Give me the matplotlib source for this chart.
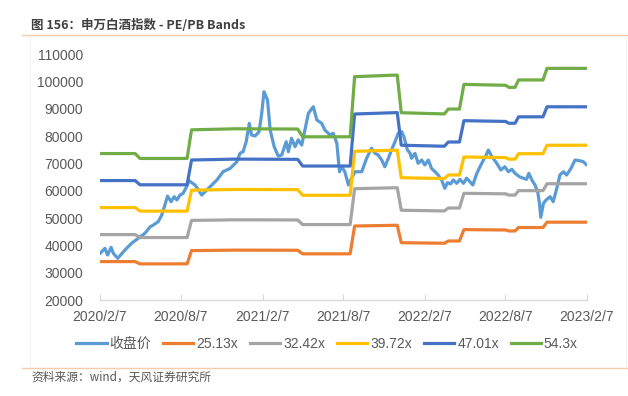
import matplotlib
matplotlib.use("Agg")
import matplotlib.pyplot as plt
import pandas as pd
from matplotlib.lines import Line2D
from matplotlib.patches import Rectangle

plt.rcParams['font.family'] = ['Liberation Sans', 'Noto Sans CJK SC', 'DejaVu Sans']

# ---- data ----
price_dates = [
    '2020-02-07', '2020-02-18', '2020-02-24', '2020-03-03', '2020-03-08', '2020-03-18',
    '2020-04-03', '2020-04-18', '2020-05-03', '2020-05-18', '2020-05-30', '2020-06-06',
    '2020-06-17', '2020-06-25', '2020-07-02', '2020-07-08', '2020-07-16', '2020-07-23',
    '2020-07-29', '2020-08-05', '2020-08-12', '2020-08-20', '2020-08-25', '2020-09-08',
    '2020-09-23', '2020-10-08', '2020-10-27', '2020-11-10', '2020-11-26', '2020-12-11',
    '2020-12-18', '2020-12-25', '2021-01-01', '2021-01-08', '2021-01-13', '2021-01-21',
    '2021-01-30', '2021-02-05', '2021-02-10', '2021-02-18', '2021-02-24', '2021-03-05',
    '2021-03-14', '2021-03-22', '2021-04-01', '2021-04-06', '2021-04-13', '2021-04-21',
    '2021-04-28', '2021-05-06', '2021-05-13', '2021-05-21', '2021-06-01', '2021-06-09',
    '2021-06-20', '2021-06-27', '2021-07-09', '2021-07-16', '2021-07-24', '2021-07-30',
    '2021-08-04', '2021-08-11', '2021-08-19', '2021-08-24', '2021-09-03', '2021-09-18',
    '2021-09-29', '2021-10-10', '2021-10-18', '2021-10-25', '2021-11-02', '2021-11-09',
    '2021-11-17', '2021-11-24', '2021-12-02', '2021-12-09', '2021-12-17', '2021-12-22',
    '2021-12-30', '2022-01-05', '2022-01-08', '2022-01-16', '2022-01-23', '2022-01-31',
    '2022-02-07', '2022-02-15', '2022-02-22', '2022-03-02', '2022-03-09', '2022-03-17',
    '2022-03-24', '2022-03-30', '2022-04-06', '2022-04-12', '2022-04-20', '2022-04-27',
    '2022-05-05', '2022-05-12', '2022-05-16', '2022-05-26', '2022-06-04', '2022-06-15',
    '2022-06-25', '2022-06-30', '2022-07-08', '2022-07-19', '2022-07-28', '2022-08-06',
    '2022-08-14', '2022-08-22', '2022-08-29', '2022-09-08', '2022-09-17', '2022-09-24',
    '2022-09-29', '2022-10-06', '2022-10-13', '2022-10-19', '2022-10-23', '2022-10-26',
    '2022-11-01', '2022-11-07', '2022-11-16', '2022-11-23', '2022-12-01', '2022-12-08',
    '2022-12-16', '2022-12-23', '2023-01-02', '2023-01-11', '2023-01-21', '2023-01-30',
    '2023-02-06',
]
price_values = [
    37000, 38900, 36450, 39270, 37080, 35250,
    38280, 40740, 42560, 44400, 46800, 47430,
    48640, 51090, 54750, 58040, 55960, 57790,
    56580, 58400, 59030, 61460, 63640, 62070,
    58400, 60860, 63900, 66930, 68170, 70580,
    73660, 74250, 77910, 84640, 80360, 80000,
    81570, 88300, 96210, 93170, 82190, 76080,
    72680, 73040, 77910, 74250, 79160, 76080,
    78610, 76700, 82190, 88300, 90740, 85850,
    84640, 82190, 80360, 80980, 77330, 66930,
    68760, 66930, 62070, 63900, 66930, 66930,
    71850, 75500, 73660, 73040, 71210, 68760,
    71850, 74870, 77910, 80980, 81570, 79740,
    74870, 73660, 71850, 73660, 70000, 71210,
    69390, 71210, 68170, 66930, 65710, 63900,
    60860, 62930, 62450, 63900, 62690, 64150,
    62690, 64520, 63900, 62070, 66330, 69990,
    73040, 74870, 72440, 69990, 67560, 68760,
    66930, 67810, 66330, 65100, 64520, 64150,
    66330, 63900, 62070, 59620, 55370, 50240,
    55370, 56580, 57790, 55960, 60860, 65710,
    66930, 65710, 68170, 71210, 70970, 70580,
    69390,
]

# earnings per share behind the PE bands (band = multiple x EPS)
eps_dates = [
    '2020-02-07', '2020-04-26', '2020-05-07', '2020-08-21', '2020-08-31', '2020-12-10',
    '2021-04-27', '2021-05-08', '2021-08-23', '2021-09-02', '2021-12-07', '2021-12-16',
    '2022-03-23', '2022-04-01', '2022-04-26', '2022-05-06', '2022-08-08', '2022-08-15',
    '2022-08-29', '2022-09-06', '2022-10-31', '2022-11-09', '2023-02-07',
]
eps_values = [
    1355, 1355, 1322, 1322, 1515, 1522,
    1520, 1468, 1468, 1873, 1884, 1630,
    1622, 1655, 1655, 1821, 1815, 1801,
    1801, 1851, 1851, 1929, 1929,
]
band_multiples = [25.13, 32.42, 39.72, 47.01, 54.3]
band_labels = ['25.13x', '32.42x', '39.72x', '47.01x', '54.3x']
price_label = '收盘价'

tick_dates = ['2020-02-07', '2020-08-07', '2021-02-07', '2021-08-07',
              '2022-02-07', '2022-08-07', '2023-02-07']
tick_labels = ['2020/2/7', '2020/8/7', '2021/2/7', '2021/8/7',
               '2022/2/7', '2022/8/7', '2023/2/7']
y_ticks = [20000, 30000, 40000, 50000, 60000, 70000, 80000, 90000, 100000, 110000]

title = '图 156：申万白酒指数 - PE/PB Bands'
source = '资料来源：wind，天风证券研究所'

# ---- style ----
price_color = '#5B9BD5'
band_colors = ['#ED7D31', '#A5A5A5', '#FFC000', '#4472C4', '#70AD47']
text_gray = '#595959'
lw = 2.3

W, H = 628, 396
fig = plt.figure(figsize=(W / 100, H / 100), dpi=100)

# faint chart-area border
fig.add_artist(Rectangle((30 / W, 1 - 368 / H), 596 / W, 333 / H, transform=fig.transFigure,
                         fill=False, edgecolor='#F2F2F2', linewidth=0.8))

ax = fig.add_axes([100 / W, 1 - 300 / H, 487 / W, 246 / H])

pd_price_dates = pd.to_datetime(price_dates)
pd_eps_dates = pd.to_datetime(eps_dates)

ax.plot(pd_price_dates, price_values, color=price_color, lw=lw, solid_joinstyle='round',
        solid_capstyle='round', zorder=2)
for m, c in zip(band_multiples, band_colors):
    ax.plot(pd_eps_dates, [m * e for e in eps_values], color=c, lw=lw,
            solid_joinstyle='round', solid_capstyle='round', zorder=3)

ax.set_xlim(pd.Timestamp(tick_dates[0]), pd.Timestamp(tick_dates[-1]))
ax.set_ylim(y_ticks[0], y_ticks[-1])
ax.set_yticks(y_ticks)
ax.set_yticklabels([str(v) for v in y_ticks])
ax.set_xticks(pd.to_datetime(tick_dates))
ax.set_xticklabels(tick_labels)

for s in ['left', 'right', 'top']:
    ax.spines[s].set_visible(False)
ax.spines['bottom'].set_color('#D9D9D9')
ax.spines['bottom'].set_linewidth(1.0)
ax.tick_params(axis='y', length=0, pad=12, labelsize=10, labelcolor=text_gray)
ax.tick_params(axis='x', direction='in', length=4, color='#D9D9D9', pad=7,
               labelsize=10, labelcolor=text_gray)
ax.patch.set_alpha(0)

handles = [Line2D([], [], color=price_color, lw=lw)] + \
          [Line2D([], [], color=c, lw=lw) for c in band_colors]
labels = [price_label] + band_labels
fig.legend(handles, labels, loc='center', bbox_to_anchor=(327 / W, 1 - 344 / H),
           ncol=6, frameon=False, fontsize=10, labelcolor=text_gray,
           handlelength=2.2, handletextpad=0.2, columnspacing=0.85, borderpad=0)

# title, separators, source
fig.text(31 / W, 1 - 25 / H, title, fontsize=9, fontweight='bold', color='#404040',
         va='center', ha='left', family=['Noto Sans CJK SC', 'DejaVu Sans'])
fig.add_artist(Line2D([22 / W, 1.0], [1 - 35 / H, 1 - 35 / H], transform=fig.transFigure,
                      color='#F8CBAD', lw=1.0))
fig.add_artist(Line2D([22 / W, 1.0], [1 - 368 / H, 1 - 368 / H], transform=fig.transFigure,
                      color='#F8CBAD', lw=1.0))
fig.text(31 / W, 1 - 377 / H, source, fontsize=8.5, color=text_gray,
         va='center', ha='left', family=['Noto Sans CJK SC', 'DejaVu Sans'])

fig.savefig('out.png', dpi=100)
